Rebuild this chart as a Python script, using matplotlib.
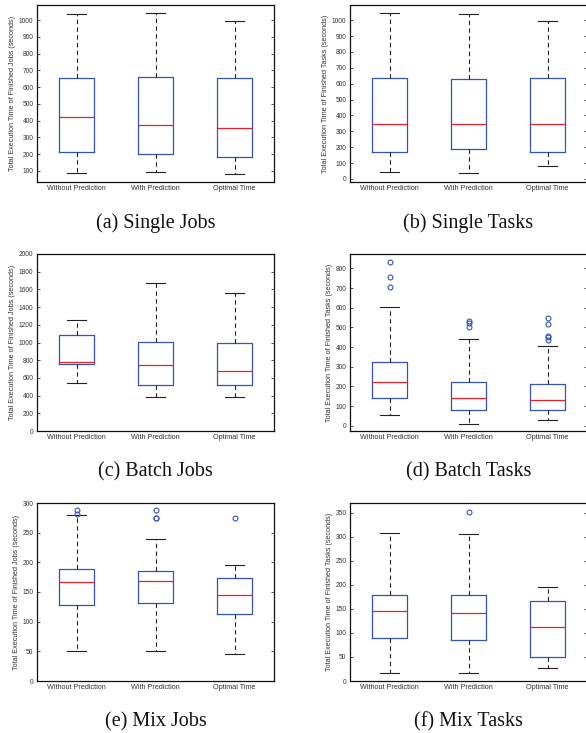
import numpy as np
import matplotlib
matplotlib.use("Agg")
import matplotlib.pyplot as plt

# ---------------------------------------------------------------------------
# data: whisker low, Q1, median, Q3, whisker high, fliers
# ---------------------------------------------------------------------------
groups = ["Without Prediction", "With Prediction", "Optimal Time"]

single_jobs_lo = [88, 96, 84]
single_jobs_q1 = [215, 199, 183]
single_jobs_med = [424, 374, 358]
single_jobs_q3 = [657, 661, 653]
single_jobs_hi = [1040, 1044, 996]
single_jobs_fl = [[], [], []]

single_tasks_lo = [44, 36, 82]
single_tasks_q1 = [172, 192, 169]
single_tasks_med = [347, 349, 345]
single_tasks_q3 = [634, 628, 634]
single_tasks_hi = [1046, 1040, 996]
single_tasks_fl = [[], [], []]

batch_jobs_lo = [540, 381, 381]
batch_jobs_q1 = [755, 521, 517]
batch_jobs_med = [777, 743, 679]
batch_jobs_q3 = [1087, 1011, 992]
batch_jobs_hi = [1249, 1672, 1555]
batch_jobs_fl = [[], [], []]

batch_tasks_lo = [54, 10, 27]
batch_tasks_q1 = [143, 80, 80]
batch_tasks_med = [224, 143, 132]
batch_tasks_q3 = [326, 224, 214]
batch_tasks_hi = [601, 443, 407]
batch_tasks_fl = [[832, 757, 706], [531, 524, 504], [548, 516, 457, 450, 435]]

mix_jobs_lo = [51, 51, 46]
mix_jobs_q1 = [128, 131, 113]
mix_jobs_med = [167, 169, 145]
mix_jobs_q3 = [188, 186, 174]
mix_jobs_hi = [279, 239, 196]
mix_jobs_fl = [[289, 282], [289, 275, 274], [274]]

mix_tasks_lo = [17, 16, 27]
mix_tasks_q1 = [90, 86, 49]
mix_tasks_med = [145, 141, 113]
mix_tasks_q3 = [178, 179, 166]
mix_tasks_hi = [308, 305, 196]
mix_tasks_fl = [[], [352], []]

panels = [
    ("(a) Single Jobs", "Jobs", single_jobs_lo, single_jobs_q1, single_jobs_med,
     single_jobs_q3, single_jobs_hi, single_jobs_fl, (34, 1091), np.arange(100, 1001, 100)),
    ("(b) Single Tasks", "Tasks", single_tasks_lo, single_tasks_q1, single_tasks_med,
     single_tasks_q3, single_tasks_hi, single_tasks_fl, (-19, 1096), np.arange(0, 1001, 100)),
    ("(c) Batch Jobs", "Jobs", batch_jobs_lo, batch_jobs_q1, batch_jobs_med,
     batch_jobs_q3, batch_jobs_hi, batch_jobs_fl, (0, 2000), np.arange(0, 2001, 200)),
    ("(d) Batch Tasks", "Tasks", batch_tasks_lo, batch_tasks_q1, batch_tasks_med,
     batch_tasks_q3, batch_tasks_hi, batch_tasks_fl, (-27, 873), np.arange(0, 801, 100)),
    ("(e) Mix Jobs", "Jobs", mix_jobs_lo, mix_jobs_q1, mix_jobs_med,
     mix_jobs_q3, mix_jobs_hi, mix_jobs_fl, (0, 300), np.arange(0, 301, 50)),
    ("(f) Mix Tasks", "Tasks", mix_tasks_lo, mix_tasks_q1, mix_tasks_med,
     mix_tasks_q3, mix_tasks_hi, mix_tasks_fl, (0, 370), np.arange(0, 351, 50)),
]

# ---------------------------------------------------------------------------
# layout (pixel boxes of the reference, 586x733)
# ---------------------------------------------------------------------------
W, H = 586, 733
fig = plt.figure(figsize=(W / 100, H / 100), dpi=100)
plt.rcParams['font.family'] = ['Liberation Sans', 'DejaVu Sans']

col_left = [37, 350]
row_top = [5, 254, 503]
row_bot = [182, 431, 681]
ax_w = 237

box_col = "#3553b5"
med_col = "#e8202a"
wh_col = "#222222"

for k, (caption, kind, lo, q1, med, q3, hi, fl, ylim, yticks) in enumerate(panels):
    r, c = divmod(k, 2)
    x0 = col_left[c]
    ax = fig.add_axes([x0 / W, 1 - row_bot[r] / H, ax_w / W, (row_bot[r] - row_top[r]) / H])

    stats = []
    for i in range(len(groups)):
        stats.append({"whislo": lo[i], "q1": q1[i], "med": med[i], "q3": q3[i],
                      "whishi": hi[i], "fliers": fl[i], "label": groups[i]})

    ax.bxp(stats, positions=[1, 2, 3], widths=0.45, showfliers=True,
           boxprops=dict(color=box_col, linewidth=0.9),
           medianprops=dict(color=med_col, linewidth=0.9),
           whiskerprops=dict(color=wh_col, linewidth=0.8, linestyle=(0, (4, 3))),
           capprops=dict(color=wh_col, linewidth=0.8),
           capwidths=0.24,
           flierprops=dict(marker="o", markersize=3.5, markerfacecolor="none",
                           markeredgecolor=box_col, markeredgewidth=0.8))

    ax.set_xlim(0.5, 3.5)
    ax.set_ylim(*ylim)
    ax.set_yticks(yticks)
    ax.set_xticks([1, 2, 3])
    ax.set_xticklabels(groups)
    ax.tick_params(axis="x", length=0, labelsize=5.2, pad=2, colors="#333333")
    ax.tick_params(axis="y", direction="in", length=2, width=0.6, labelsize=4.8,
                   pad=2.5, right=True, colors="#333333")
    for sp in ax.spines.values():
        sp.set_linewidth(0.9)
        sp.set_color("#111111")
    ax.set_ylabel("Total Execution Time of Finished %s (seconds)" % kind,
                  fontsize=5.2, color="#333333", labelpad=2)

    # caption under the panel
    fig.text((x0 + ax_w / 2) / W, 1 - (row_bot[r] + 41) / H, caption,
             ha="center", va="center", fontsize=14.5, family="Liberation Serif",
             color="#111111")

fig.savefig("out.png", dpi=100, facecolor="white")
